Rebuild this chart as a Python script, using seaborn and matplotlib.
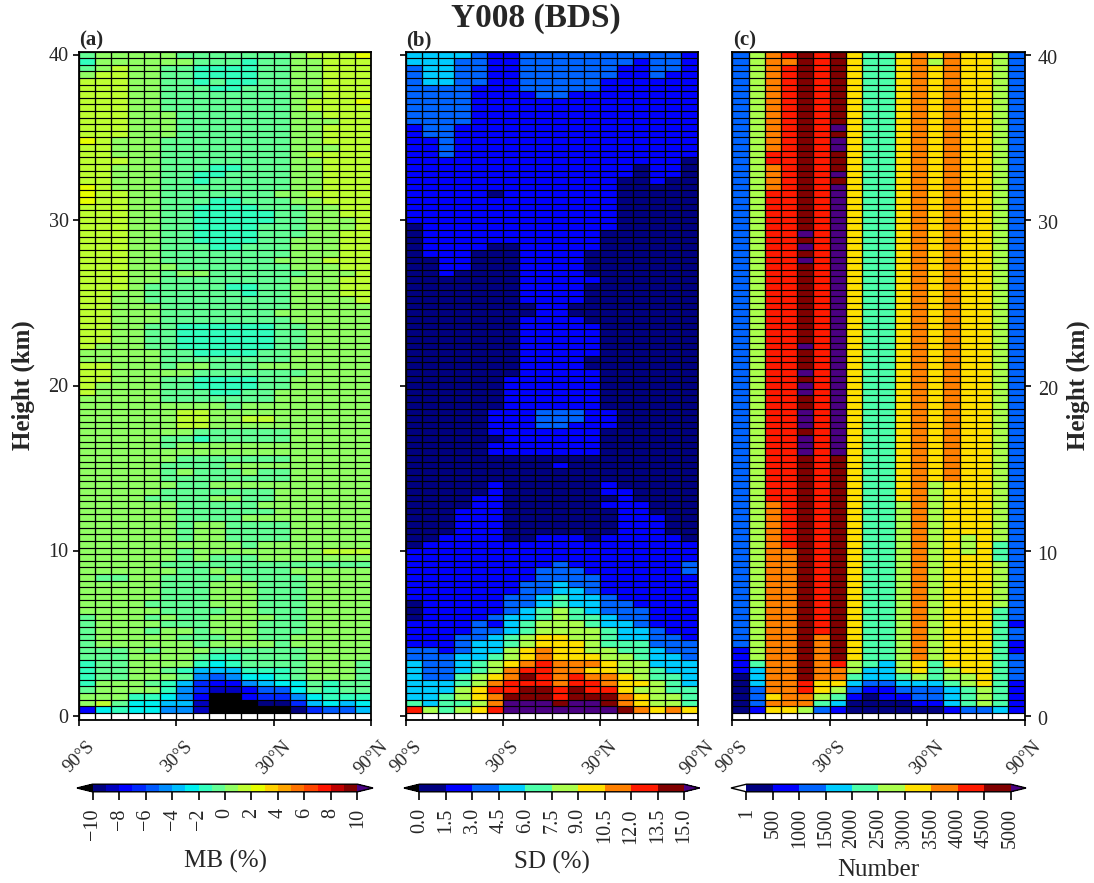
import numpy as np
import pandas as pd
import matplotlib
matplotlib.use("Agg")
import matplotlib.pyplot as plt
from matplotlib.colors import ListedColormap, BoundaryNorm
from matplotlib.transforms import ScaledTranslation
import seaborn as sns

# ---- data: one letter per cell = the colour bin; rows run from 40 km down to 0.4 km
heights = [round(40 - 0.4 * i, 1) for i in range(101)]
lat_edges = list(range(-90, 90, 10))
lat_ticks = [-90, -30, 30, 90]
lat_labels = ["90°S", "30°S", "30°N", "90°N"]
height_ticks = [0, 10, 20, 30, 40]

mb_rows = [
"jkkkkkjjjjjjjklllm","ikkkkkkjjjijjkklll","jklkkjjiiiijjkklll","kllkkjjiiiijjkklll","lllkkjjijiijjkklll",
"lllkkjjjiijjjkklll","lllkkjjjjjjjjkklll","lllkkjjjjjjjjklllm","lllkkjjjjjjjjkllll","lllkkkjjjjjjjkklll",
"lllkkkjjjjjjjkkkll","lllkkkjjjjjjjkklll","lllkkkjjjjjjjkklll","mlkkkjjjjjjjjkklll","llkkkjjjjjjjjkkkll",
"llkkkjjjjjjjjkllll","lllkkjjjjjjjjkklll","llkkkjjjiijjjkklll","llkkkjjiijjjjkklll","llkkkjjijjjjjkklll",
"mlkkkjjjjjjjjkklll","mllkkjjjjjjjkkllll","mllkkjjjiijjjkklll","lllkkjjiiiijjjkkll","lllkkjjiiiiijjkkll",
"lllkkjjiiiiijjkkkl","lllkkjjiiiijjjkkkl","lllkkjjiiiijjjkkll","lllkkjjiiiijjkkkll","lllkkjjjiijjjkkkll",
"lllkkjjjjjjjjkkkll","lllkkjjjjjjjkkklll","lllkkkjjjjjjjkkkll","lllkkjkkjjjjjjkkkl","lllkkjjjjjjjjkkkll",
"lllkjjjjjiijjkkkll","llkkjjjjjjijjkkkll","llkkjjjjjjjjjkkkkl","llkkkjjjjjjjjkkkkk","llkkkjjjjjjjkkkkkk",
"llkkkjjjjjjjjkkkkk","llkkjjiiiiiijjkkkk","llkkjjiiiiiijjkkkk","llkkjjiiiiiijjkkkk","lkkkjjiiiiiijjkkkk",
"kkkkkjjiiiijjkkkkk","kkkkkjjjjjjjjkkkkk","llkkkjkkjjjkkkkkkk","llkkkkkjjjjjjjkkkk","llkkkjjiiiijjkkkkk",
"lkkkkjjiiiijjkkkkk","lkkkkjjjiijjkkkkkk","kkkkkjjjjjjjkkkkkk","kkkkkkkkkjkkkkkkkk","kkkkkkllkkkkkkkkkk",
"kkkkkkllkkllkkkkkk","kkkkkkllkkkkkkkkkk","kkkkkkkjjjjjjkkkkk","kkkkkjjijjjjjkkkkk","kkkkkjkkkkkkkkkkkk",
"kkkkkkkkkkkkkkkkkk","kkkkkkjjjjjjjkkkkk","kkkkkjjjjkkkkkkkkk","kkkkkjkjjjkjjkkkkk","kkkkkjjjjjjjjkkkkk",
"kkkkkkjjkkkkkkkkkk","kkkkkjjjjjjjkkkkkk","kkkkjjjjkkjjkkkkkk","kkkkkkjjjjjkkkkkkk","kkkkkkjjjjjjkkkkkk",
"kkkkkkjjjjkkkkkkkk","kkkkkkjkkjjjjkkkkk","kkkkkkjkkjjjjkkkkk","kkkkkkjkkjjjjkkkkk","kkkkkkkkkkjkkkkkkk",
"kkkkkkjkkkkkkkklll","kkkkkkjkjjjkkkkkkk","kkkkkjjjjjjjjjjjjj","kkkkkkjjkjjjjkkkkk","kjjkkjjjjkjjjjkkkk",
"kkkkkjjjkkkjjjkkkk","kkkkkjjjkkkjjjkkkk","kkkkkjjjkkkjjjkkkk","kkkkjjjjkkkjjjkkkk","kkkkkjjjjkkjjjkkkk",
"jkkkjkjjkkkkjjkkkk","jkkkkjjjkkkjjjkkkk","jkkkjkkjkkkjjjkkkk","jkkkkkjjjkkjjkkkkk","jkkkkkkjkkkkjkkkkk",
"jjjkjkkkjjjjjjkkkk","jjjkkkkjiijjjjkkkk","ijjkkkkihijjjjkkkj","ijjkkjigggiiijkkkj","ijjkkkjfefhhijkkkj",
"ikkkjigdccfghhjijj","jkkkkifdbbceehjijj","kkkiihfc__cddfhiii","kljhhggb___aadghgh","chihhffb_____adeeg",
"..................",
]

sd_rows = [
"ddddcbbccccccccccb","dddccbbcccccccbccb","cddccbbccccccbbccb","cddccbbccccccbbcbb","cddccbbcccccbbbbbb",
"ccccbbbcccccbbbbbb","ccccbbbbccbbbbbbbb","ccccbbbbbbbbbbbbbb","ccccbbbbbbbbbbbbbb","ccccbbbbbbbbbbbbbb",
"ccccbbbbbbbbbbbbbb","bccbbbbbbbbbbbbbbb","bccbbbbbbbbbbbbbbb","bbcbbbbbbbbbbbbbbb","bbcbbbbbbbbbbbbbbb",
"bbcbbbbbbbbbbbbbbb","bbbbbbbbbbbbbbbbba","bbbbbbbbbbbbbbabba","bbbbbbbbbbbbbbabba","bbbbbbbbbbbbbaabaa",
"bbbbbbbbbbbbbaaaaa","bbbbbabbbbbbbaaaaa","bbbbbbbbbbbbbaaaaa","bbbbbbbbbbbbbaaaaa","bbbbbbbbbbbbbaaaaa",
"bbbbbbbbbbbbbaaaaa","abbbbbbbbbbbbaaaaa","abbbbbbbbbbbaaaaaa","abbbbbbbbbbbaaaaaa","abbbbaabbbbbaaaaaa",
"abbbaaabbbbaaaaaaa","aabbaaabbbbaaaaaaa","aabbaaabbbbaaaaaaa","aabaaaabbbbaaaaaaa","aaaaaaabbbbbaaaaaa",
"aaaaaaabbbbaaaaaaa","aaaaaaabbbbaaaaaaa","aaaaaaabbbbaaaaaaa","aaaaaaaabbaaaaaaaa","aaaaaaaabbaaaaaaaa",
"aaaaaaabbbbaaaaaaa","aaaaaaabbbbbaaaaaa","aaaaaaabbbbbaaaaaa","aaaaaaabbbbbaaaaaa","aaaaaaabbbbbaaaaaa",
"aaaaaaabbbbbaaaaaa","aaaaaaabbbbaaaaaaa","aaaaaaabbbbaaaaaaa","aaaaaaabbbbbaaaaaa","aaaaaabbbbbbaaaaaa",
"aaaaaabbbbbbaaaaaa","aaaaaabbbbbbaaaaaa","aaaaaabbbbbbaaaaaa","aaaaaabbbbbbaaaaaa","aaaaabbbcccbbaaaaa",
"aaaaabbbcccbbaaaaa","aaaaabbbccbbbaaaaa","aaaaabbbbbbbaaaaaa","aaaaaabbbbbbaaaaaa","aaaaabbbbbbbaaaaaa",
"aaaaabbbbbbbaaaaaa","aaaaaaaaaaaaaaaaaa","aaaaaaaaabaaaaaaaa","aaaaaaaaaaaaaaaaaa","aaaaaaaaaaaaaaaaaa",
"aaaaabaaaaaabaaaaa","aaaaabaaaaaabbaaaa","aaaabbaaaaaaabaaaa","aaaabbaaaaaabbbaaa","aaabbbaaaaaaabbaaa",
"aaabbbaaaaaaabbbaa","aaabbbaaaaaaabbbaa","aaabbbaaaaaaabbbaa","aabbbbaabbbabbbbba","abbbbbbbbbbbbbbbbb",
"bbbbbbbbbbbbbbbbbb","bbbbbbbbbbbbbbbbbb","bbbbbbbbbcbbbbbbbc","bbbbbbbbcccbbbbbbc","bbbbbbbbccccbbbbbb",
"bbbbbbbccdccbbbbbb","bbbbbbbccddcbbbbbb","bbbbbbccdeddcbbbbb","abbbbbccdeddccbbbb","abbbbbcdefedcccbbb",
"abbbbcddefeedccbbb","bbbbcbdefffeddcbbb","bbbbccdeffffeddcbb","bbbccdefggffeddccb","bbbcddefgggfeeeccc",
"ccbcddfghggffeedcc","cccddefghgggffeddc","dccdefghihhhgffddd","dccdefhiihhggffedd","dccefghjihihhgfeed",
"dddefhiiihiihggfed","dddfgiijjijiigffee","ddefghjjjijjjhgffe","edeefhkkkjkkjhgffe","ifefgikkkkkkkjhghg",
"..................",
]

# Number panel: one string per latitude column, top (40 km) to bottom
num_cols = [
"c"*90 + "b"*4 + "a"*6,
"f"*92 + "edddcccb",
"h"*15 + "ii" + "hhhh" + "i"*47 + "h"*29 + "ghg",
"ih" + "i"*73 + "h"*24 + "g",
"j"*27+"kjkjk"+"j"*12+"k"+"jjj"+"k"+"j"+"kk"+"jj"+"kkk"+"j"+"kkk"+"j"*34+"iihhf",
"i"*88 + "h"*7 + "ggfec",
"j"*11+"kjkkjjjkjk"+"k"*40+"j"*31+"ihhgfedb",
"g"*92 + "ffedcbaa",
"e"*93 + "ddcbaaa",
"e"*92 + "dddcbbaa",
"g"*68 + "f"*26 + "edcbaa",
"h"*92 + "ggfdccba",
"gf" + "g"*63 + "f"*27 + "eeedccba",
"h"*65 + "g"*28 + "ffedddb",
"g"*73 + "fff" + "g"*18 + "ffeeec",
"g"*96 + "fffc",
"f"*74 + "eee" + "f"*7 + "e"*15 + "d",
"c"*86 + "bccbb" + "cccc" + "bbbbb",
]
num_rows = ["".join(col[i] for col in num_cols) for i in range(100)] + ["."*18]

mb_levels = list(range(-10, 11))
sd_levels = [0.0, 1.5, 3.0, 4.5, 6.0, 7.5, 9.0, 10.5, 12.0, 13.5, 15.0]
num_levels = [1, 500, 1000, 1500, 2000, 2500, 3000, 3500, 4000, 4500, 5000]

colors20 = ["#000080","#0000be","#0000ff","#0028ff","#005aff","#008cff","#00beff","#00f0f0",
            "#32ffbe","#64ff96","#91ff64","#beff32","#e6ff00","#ffd200","#ffa500","#ff7300",
            "#ff4600","#ff1400","#be0000","#800000"]
colors10 = ["#000080","#0000ff","#0064ff","#00ccff","#4dffaa","#aaff4d","#ffe000","#ff8000","#ff1a00","#800000"]
over_color = "#4b0082"

sns.set_style("ticks")
plt.rcParams["font.family"] = ["Liberation Serif", "DejaVu Serif"]
plt.rcParams["axes.unicode_minus"] = True


def decode(rows, levels, under):
    """letter -> mid value of that colour bin"""
    mids = [(levels[k] + levels[k + 1]) / 2 for k in range(len(levels) - 1)]
    out = []
    for r in rows:
        if len(r) != 18:
            raise ValueError(r)
        line = []
        for ch in r:
            if ch == ".":
                line.append(np.nan)
            elif ch == "_":
                line.append(under)
            elif ord(ch) - 97 >= len(mids):
                line.append(levels[-1] + 1)
            else:
                line.append(mids[ord(ch) - 97])
        out.append(line)
    if len(out) != 101:
        raise ValueError(len(out))
    return pd.DataFrame(out, index=heights, columns=lat_edges)


W, H = 1094, 883
fig = plt.figure(figsize=(W / 100, H / 100), dpi=100)


def box(x0, x1, y0, y1):
    return [x0 / W, 1 - y1 / H, (x1 - x0) / W, (y1 - y0) / H]


panels = [
    dict(rows=mb_rows, levels=mb_levels, colors=colors20, under="black", x=(79, 371), cb=(77, 373),
         tag="(a)", label="MB (%)", ticks=mb_levels[::2], fmt=None, pad=7),
    dict(rows=sd_rows, levels=sd_levels, colors=colors10, under="black", x=(405.7, 697.7), cb=(404, 699.5),
         tag="(b)", label="SD (%)", ticks=sd_levels, fmt="%.1f", pad=5),
    dict(rows=num_rows, levels=num_levels, colors=colors10, under="white", x=(732.3, 1024.5), cb=(731, 1026),
         tag="(c)", label="Number", ticks=num_levels, fmt="%d", pad=8),
]

for n, p in enumerate(panels):
    ax = fig.add_axes(box(p["x"][0], p["x"][1], 51.5, 719.5))
    cax = fig.add_axes(box(p["cb"][0], p["cb"][1], 784.2, 791.8))
    cmap = ListedColormap(p["colors"])
    cmap.set_under(p["under"])
    cmap.set_over(over_color)
    cmap.set_bad("white")
    norm = BoundaryNorm(p["levels"], cmap.N)
    df = decode(p["rows"], p["levels"], p["levels"][0] - 1)
    sns.heatmap(df, ax=ax, cmap=cmap, norm=norm, linewidths=0,
                cbar_ax=cax, square=False,
                cbar_kws=dict(orientation="horizontal", extend="both", extendfrac=0.0585,
                              ticks=p["ticks"], format=p["fmt"], spacing="uniform"))
    nrow, ncol = df.shape
    ax.hlines(np.arange(nrow + 1), 0, ncol, colors="black", linewidth=0.85, zorder=3)
    ax.vlines(np.arange(ncol + 1), 0, nrow, colors="black", linewidth=0.95, zorder=3)
    # axes ticks in cell coordinates of the heatmap
    ax.set_xticks([(v + 90) / 10 for v in lat_ticks])
    ax.set_xticklabels(lat_labels, rotation=45, ha="center", fontsize=13.5)
    ax.set_yticks([heights.index(float(v)) + 0.5 for v in height_ticks])
    ax.set_yticklabels([str(v) for v in height_ticks], rotation=0, fontsize=14.5)
    ax.set_xlabel("")
    ax.set_ylabel("")
    ax.tick_params(axis="x", length=4, width=1.2, pad=9, bottom=True, color="black")
    ax.tick_params(axis="y", length=4.5, width=1.2, pad=3, color="black")
    for s in ax.spines.values():
        s.set_visible(True)
        s.set_linewidth(1.3)
        s.set_color("black")
    if n == 0:
        ax.set_ylabel("Height (km)", fontsize=18, fontweight="bold")
        ax.yaxis.set_label_coords(-0.15, 0.5)
    elif n == 1:
        ax.tick_params(axis="y", labelleft=False)
    else:
        ax.yaxis.tick_right()
        ax.yaxis.set_label_position("right")
        ax.tick_params(axis="y", length=4.5, width=1.2, pad=5, color="black")
        ax.set_ylabel("Height (km)", fontsize=18, fontweight="bold")
        ax.yaxis.set_label_coords(1.143, 0.5)
    shift = ScaledTranslation(0, -1.5 / 72, fig.dpi_scale_trans)
    for lab in ax.get_yticklabels():
        lab.set_transform(lab.get_transform() + shift)
    ax.text(0.002, 1.001, p["tag"], transform=ax.transAxes, fontsize=15, fontweight="bold",
            ha="left", va="bottom")

    cb = ax.collections[0].colorbar
    cb.ax.tick_params(axis="x", length=5.8, width=1.2, pad=6, labelsize=14.5, labelrotation=90, color="black")
    cb.minorticks_off()
    cb.outline.set_linewidth(1.0)
    cb.outline.set_edgecolor("black")
    cb.set_label(p["label"], fontsize=18, labelpad=p["pad"])

fig.text(536 / W, 1 - 18 / H, "Y008 (BDS)", fontsize=24, fontweight="bold", ha="center", va="center")
fig.savefig("out.png", dpi=100)
